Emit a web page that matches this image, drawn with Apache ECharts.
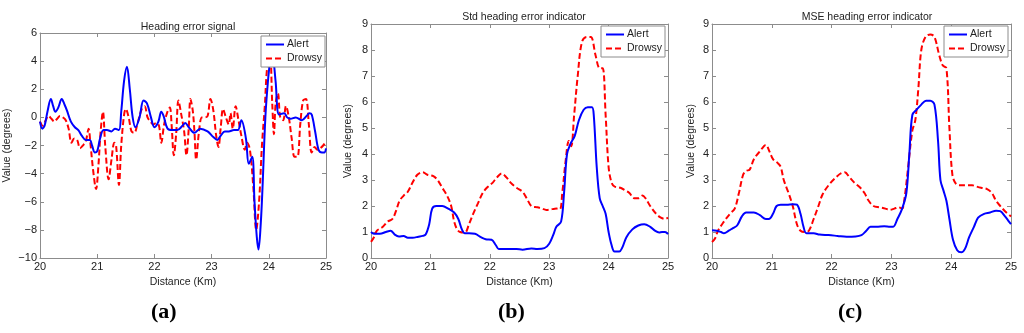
<!DOCTYPE html>
<html>
<head>
<meta charset="utf-8">
<script src="https://cdn.jsdelivr.net/npm/echarts@6/dist/echarts.min.js"></script>
<style>html,body{margin:0;padding:0;background:#fff;}#c{width:1024px;height:333px;}</style>
</head>
<body>
<div id="c"></div>
<script>
// ---------- Data ----------
const seriesNames = ['Alert', 'Drowsy'];
const panelTitles = ['Heading error signal', 'Std heading error indicator', 'MSE heading error indicator'];
const panelLetters = ['(a)', '(b)', '(c)'];
const xTicks = [20, 21, 22, 23, 24, 25];

// Panel (a): heading error signal
const aAlertX = [20.0,20.04,20.08,20.13,20.19,20.23,20.27,20.32,20.38,20.43,20.47,20.54,20.61,20.67,20.73,20.8,20.87,20.91,20.96,21.0,21.05,21.11,21.17,21.25,21.31,21.38,21.42,21.47,21.52,21.57,21.62,21.67,21.74,21.81,21.87,21.94,22.0,22.07,22.12,22.16,22.23,22.32,22.4,22.49,22.54,22.6,22.7,22.8,22.93,23.03,23.1,23.16,23.23,23.3,23.39,23.46,23.52,23.6,23.65,23.71,23.75,23.79,23.82,23.86,23.89,23.94,23.99,24.03,24.06,24.09,24.12,24.18,24.27,24.32,24.38,24.47,24.58,24.66,24.71,24.75,24.81,24.87,24.93,24.97,25.0];
const aAlertY = [-0.3,-0.8,-0.6,0.4,1.3,0.8,0.4,0.7,1.3,0.9,0.5,-0.3,-0.7,-0.9,-1.3,-1.6,-1.6,-2.0,-2.5,-2.4,-1.5,-0.9,-0.9,-1.0,-0.8,-0.9,0.4,2.6,3.6,2.0,0.0,-0.7,0.0,1.2,1.0,0.0,-0.7,-0.3,0.4,0.1,-0.8,-0.9,-0.9,-0.6,-0.4,-0.7,-1.1,-0.8,-1.0,-1.4,-1.6,-1.3,-1.0,-1.0,-0.9,-0.9,-0.2,-1.5,-3.3,-2.8,-6.0,-8.5,-9.4,-7.5,-5.0,0.0,2.8,4.2,4.6,3.8,2.5,0.2,0.3,0.0,-0.1,0.0,-0.2,0.1,0.3,0.2,-1.0,-2.3,-2.5,-2.5,-2.2];
const aDrowsyX = [20.0,20.05,20.1,20.15,20.2,20.25,20.3,20.35,20.4,20.45,20.5,20.55,20.6,20.65,20.7,20.75,20.8,20.85,20.88,20.93,20.98,21.02,21.06,21.1,21.14,21.2,21.25,21.3,21.33,21.38,21.42,21.47,21.5,21.55,21.6,21.65,21.7,21.78,21.83,21.88,21.93,21.98,22.03,22.08,22.12,22.17,22.22,22.27,22.3,22.34,22.38,22.42,22.47,22.52,22.56,22.6,22.63,22.67,22.7,22.73,22.78,22.83,22.88,22.93,22.98,23.03,23.08,23.12,23.16,23.2,23.25,23.3,23.33,23.37,23.42,23.47,23.52,23.58,23.62,23.67,23.73,23.78,23.83,23.88,23.93,23.97,24.02,24.06,24.09,24.12,24.16,24.2,24.25,24.3,24.35,24.4,24.45,24.5,24.55,24.6,24.65,24.7,24.75,24.8,24.85,24.9,24.95,25.0];
const aDrowsyY = [-0.3,-0.6,-0.2,0.1,-0.1,-0.3,-0.1,0.1,0.0,-0.2,-0.8,-1.8,-1.5,-1.6,-2.2,-2.0,-1.7,-0.8,-1.8,-3.8,-5.1,-3.5,-1.0,0.4,-2.0,-4.4,-3.0,-1.8,-2.0,-4.8,-2.0,0.2,0.6,0.0,-1.0,-1.1,-0.5,0.6,0.8,0.0,-0.3,-0.5,-0.4,-0.6,-1.8,-0.5,0.3,0.7,-0.5,-2.7,-1.2,1.2,0.2,-1.0,-2.7,-0.8,1.3,0.5,-1.0,-3.0,-1.0,0.0,0.0,0.1,1.3,0.5,-1.3,-2.1,-0.7,0.6,0.0,-0.5,0.3,-0.8,0.8,-0.2,-1.3,-2.3,-1.8,-2.3,-5.0,-8.0,-6.0,-2.0,0.8,3.5,4.5,1.0,-1.2,1.0,1.7,0.0,-0.2,0.8,0.0,-1.5,-2.8,-2.8,-0.5,1.2,1.3,-0.5,-2.5,-2.1,-2.3,-2.2,-2.0,-1.7];

// Panel (b): std heading error indicator
const bAlertX = [20.0,20.05,20.15,20.25,20.33,20.4,20.47,20.55,20.62,20.7,20.8,20.87,20.92,20.98,21.03,21.1,21.2,21.3,21.4,21.47,21.53,21.58,21.65,21.75,21.85,21.93,22.03,22.1,22.15,22.3,22.45,22.55,22.7,22.8,22.92,23.0,23.07,23.12,23.2,23.25,23.3,23.36,23.43,23.5,23.58,23.65,23.72,23.75,23.8,23.85,23.9,23.95,24.0,24.05,24.1,24.18,24.23,24.3,24.4,24.5,24.6,24.7,24.78,24.85,24.9,24.95,25.0];
const bAlertY = [1.0,0.93,0.93,1.0,1.05,0.9,0.83,0.85,0.78,0.78,0.82,0.85,0.9,1.3,1.9,2.0,2.0,1.9,1.75,1.5,1.1,0.95,0.95,0.93,0.8,0.72,0.7,0.5,0.35,0.35,0.35,0.32,0.37,0.35,0.38,0.55,0.9,1.2,1.4,2.5,4.0,4.4,4.7,5.3,5.7,5.8,5.8,5.5,3.5,2.3,2.0,1.7,1.0,0.5,0.25,0.25,0.4,0.8,1.1,1.25,1.3,1.2,1.05,0.98,1.0,1.0,0.92];
const bDrowsyX = [20.0,20.05,20.1,20.2,20.28,20.36,20.42,20.48,20.55,20.62,20.7,20.78,20.87,20.95,21.05,21.12,21.2,21.28,21.35,21.4,21.45,21.5,21.58,21.65,21.72,21.8,21.88,21.95,22.05,22.12,22.2,22.28,22.35,22.45,22.55,22.62,22.7,22.8,22.88,22.95,23.05,23.12,23.18,23.22,23.28,23.33,23.37,23.42,23.48,23.55,23.63,23.7,23.78,23.85,23.9,23.95,24.0,24.05,24.1,24.2,24.28,24.35,24.43,24.5,24.57,24.62,24.7,24.8,24.88,24.95,25.0];
const bDrowsyY = [0.62,0.8,1.05,1.2,1.4,1.5,1.8,2.2,2.4,2.55,2.9,3.2,3.3,3.2,3.15,3.0,2.7,2.4,2.0,1.4,1.1,1.0,0.98,1.3,1.7,2.1,2.5,2.7,2.9,3.1,3.25,3.1,2.9,2.7,2.55,2.3,2.0,1.95,1.9,1.85,1.88,1.9,1.88,2.5,3.8,4.5,4.3,5.5,7.0,8.3,8.5,8.5,7.8,7.3,7.3,5.5,3.5,2.9,2.75,2.7,2.6,2.5,2.3,2.3,2.4,2.3,2.0,1.7,1.55,1.5,1.55];

// Panel (c): MSE heading error indicator
const cAlertX = [20.0,20.08,20.15,20.2,20.28,20.35,20.42,20.5,20.57,20.7,20.8,20.9,20.95,21.02,21.08,21.15,21.25,21.35,21.42,21.48,21.53,21.58,21.7,21.8,21.95,22.1,22.25,22.4,22.5,22.58,22.65,22.75,22.88,22.98,23.03,23.1,23.18,23.25,23.3,23.35,23.42,23.5,23.58,23.65,23.72,23.78,23.82,23.87,23.92,23.97,24.03,24.1,24.17,24.23,24.3,24.38,24.45,24.55,24.65,24.75,24.82,24.9,24.95,25.0];
const cAlertY = [1.07,1.05,1.0,0.95,1.05,1.15,1.25,1.6,1.75,1.75,1.65,1.5,1.5,1.7,2.0,2.05,2.05,2.07,2.05,1.7,1.2,0.95,0.95,0.9,0.88,0.85,0.82,0.83,0.88,1.05,1.2,1.2,1.22,1.2,1.2,1.5,1.9,2.5,4.0,5.5,5.7,5.9,6.05,6.05,5.9,4.5,3.0,2.6,2.2,1.5,0.7,0.3,0.22,0.35,0.8,1.2,1.55,1.7,1.75,1.82,1.8,1.6,1.45,1.3];
const cDrowsyX = [20.0,20.05,20.1,20.2,20.3,20.38,20.45,20.52,20.57,20.63,20.7,20.8,20.9,20.96,21.02,21.1,21.15,21.2,21.28,21.35,21.42,21.48,21.55,21.62,21.7,21.78,21.85,21.95,22.05,22.15,22.22,22.3,22.38,22.48,22.55,22.62,22.7,22.8,22.9,22.97,23.05,23.12,23.18,23.22,23.28,23.35,23.4,23.45,23.5,23.57,23.65,23.72,23.8,23.86,23.92,23.97,24.02,24.08,24.15,24.25,24.35,24.42,24.5,24.6,24.68,24.75,24.82,24.9,25.0];
const cDrowsyY = [0.62,0.75,1.05,1.4,1.7,1.9,2.5,3.2,3.35,3.4,3.8,4.1,4.35,4.1,3.8,3.65,3.5,3.0,2.5,2.0,1.3,1.05,1.0,1.05,1.5,2.0,2.45,2.8,3.05,3.25,3.3,3.1,2.9,2.7,2.5,2.2,2.0,1.95,1.9,1.85,1.9,1.95,1.9,2.3,3.5,4.9,5.3,6.5,8.0,8.5,8.6,8.5,7.8,7.4,7.3,5.0,3.2,2.85,2.8,2.8,2.8,2.75,2.7,2.65,2.5,2.2,2.0,1.8,1.6];

const yRanges = [[-10, 6, 2], [0, 9, 1], [0, 9, 1]];

// ---------- Layout ----------
const grids = [
  {left: 40, top: 33, width: 286, height: 225},
  {left: 371, top: 24, width: 297, height: 234},
  {left: 712, top: 24, width: 299, height: 234}
];
const titlePos = [[183, 17], [519, 7], [862, 7]];
const letterPos = [165, 512, 852];
const yNameGap = [27, 17, 15];
const legendPos = [[261, 36], [601, 26], [944, 26]];

const FONT = '"Liberation Sans", Arial, sans-serif';
const AXIS = '#8c8c8c';
const TXT = '#222';
const zip = (xs, ys) => xs.map((x, i) => [x, ys[i]]);
const data = [
  [zip(aAlertX, aAlertY), zip(aDrowsyX, aDrowsyY)],
  [zip(bAlertX, bAlertY), zip(bDrowsyX, bDrowsyY)],
  [zip(cAlertX, cAlertY), zip(cDrowsyX, cDrowsyY)]
];
const minus = v => String(v).replace('-', '\u2212');

const option = {
  animation: false,
  backgroundColor: '#fff',
  title: [], grid: [], xAxis: [], yAxis: [], series: [], legend: [], graphic: []
};

for (let p = 0; p < 3; p++) {
  option.grid.push(Object.assign({containLabel: false}, grids[p]));
  option.title.push({
    text: panelTitles[p], left: titlePos[p][0], top: titlePos[p][1], textAlign: 'center',
    textStyle: {fontFamily: FONT, fontSize: 10.5, fontWeight: 'normal', color: TXT}
  });
  const axisCommon = () => ({
    axisLine: {show: true, onZero: false, lineStyle: {color: AXIS, width: 1}},
    axisTick: {show: true, inside: true, length: 4, lineStyle: {color: AXIS}},
    splitLine: {show: false}
  });
  option.xAxis.push(Object.assign({
    type: 'value', gridIndex: p, min: xTicks[0], max: xTicks[xTicks.length - 1], interval: 1,
    position: 'bottom', name: 'Distance (Km)', nameLocation: 'middle', nameGap: 15,
    nameTextStyle: {fontFamily: FONT, fontSize: 10.5, color: TXT},
    axisLabel: {fontFamily: FONT, fontSize: 11, color: TXT, margin: 3}
  }, axisCommon()));
  option.xAxis.push(Object.assign({
    type: 'value', gridIndex: p, min: xTicks[0], max: xTicks[xTicks.length - 1], interval: 1,
    position: 'top', axisLabel: {show: false}
  }, axisCommon()));
  const yr = yRanges[p];
  option.yAxis.push(Object.assign({
    type: 'value', gridIndex: p, min: yr[0], max: yr[1], interval: yr[2], position: 'left',
    name: 'Value (degrees)', nameLocation: 'middle', nameGap: yNameGap[p],
    nameTextStyle: {fontFamily: FONT, fontSize: 10.5, color: TXT},
    axisLabel: {fontFamily: FONT, fontSize: 11, color: TXT, margin: 3, formatter: minus}
  }, axisCommon()));
  option.yAxis.push(Object.assign({
    type: 'value', gridIndex: p, min: yr[0], max: yr[1], interval: yr[2], position: 'right',
    axisLabel: {show: false}
  }, axisCommon()));

  option.series.push({
    name: seriesNames[0], type: 'line', xAxisIndex: 2 * p, yAxisIndex: 2 * p,
    data: data[p][0], showSymbol: false, symbol: 'none', smooth: 0.35, z: 3,
    lineStyle: {color: '#0000ff', width: 2}, itemStyle: {color: '#0000ff'}
  });
  option.series.push({
    name: seriesNames[1], type: 'line', xAxisIndex: 2 * p, yAxisIndex: 2 * p,
    data: data[p][1], showSymbol: false, symbol: 'none', smooth: 0.35, z: 2,
    lineStyle: {color: '#ff0000', width: 2, type: [6, 3]}, itemStyle: {color: '#ff0000'}
  });
  option.legend.push({
    left: legendPos[p][0], top: legendPos[p][1], orient: 'vertical',
    data: seriesNames, itemWidth: 18, itemHeight: 10, itemGap: 3, padding: [3, 3, 3, 4],
    backgroundColor: '#fff', borderColor: '#8c8c8c', borderWidth: 1, borderRadius: 0,
    selectedMode: false, z: 10,
    itemStyle: {opacity: 0},
    textStyle: {fontFamily: FONT, fontSize: 10.5, color: TXT, padding: [0, 0, 0, -2]}
  });
  option.graphic.push({
    type: 'text', left: letterPos[p] - 14, top: 301, z: 10,
    style: {text: panelLetters[p], fontFamily: '"Liberation Serif", "Times New Roman", serif',
      fontSize: 22, fontWeight: 'bold', fill: '#000'}
  });
}

const chart = echarts.init(document.getElementById('c'), null, {renderer: 'canvas'});
chart.setOption(option);
</script>
</body>
</html>
